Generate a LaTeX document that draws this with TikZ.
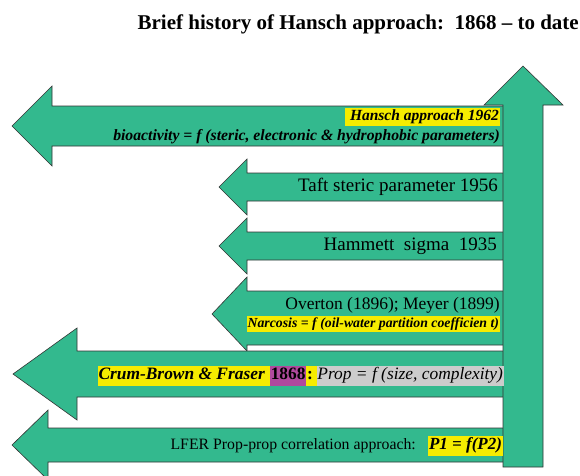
\documentclass[tikz,border=0pt]{standalone}
\usepackage{fontspec}
\setmainfont{Liberation Serif}
\usetikzlibrary{positioning}

\definecolor{arrowgreen}{RGB}{51,185,142}
\definecolor{hlyellow}{RGB}{246,236,0}
\definecolor{hlmagenta}{RGB}{176,74,158}
\definecolor{hlgrey}{RGB}{204,204,204}

% highlighted piece of text
\newcommand{\hlbox}[2]{{\setlength{\fboxsep}{0.8pt}\colorbox{#1}{\strut#2}}}

\begin{document}
\begin{tikzpicture}[x=1pt, y=-1pt,
bigarrow/.style={fill=arrowgreen, draw=black!80, line width=0.6pt, line join=miter},
caption/.style={anchor=east, inner sep=0pt, align=right},
title/.style={anchor=east, inner sep=0pt, font=\bfseries\fontsize{21}{23}\selectfont}
]
\useasboundingbox (0,0) rectangle (580,475);

\node[title] (title) at (579,24) {Brief history of Hansch approach:\ \ 1868 -- to date};

% horizontal arrows, top to bottom
\draw[bigarrow] (512,106) -- (52,106) -- (52,86) -- (12,126) -- (52,166) -- (52,146) -- (512,146) -- cycle;
\draw[bigarrow] (512,173) -- (247,173) -- (247,159) -- (219,187) -- (247,215) -- (247,201) -- (512,201) -- cycle;
\draw[bigarrow] (512,232) -- (247,232) -- (247,218) -- (219,246) -- (247,274) -- (247,260) -- (512,260) -- cycle;
\draw[bigarrow] (512,291) -- (247,291) -- (247,277) -- (212,314) -- (247,351) -- (247,345) -- (512,345) -- cycle;
\draw[bigarrow] (512,351) -- (77,351) -- (77,328) -- (13,374) -- (77,420) -- (77,397) -- (512,397) -- cycle;
\draw[bigarrow] (512,428) -- (48,428) -- (48,410) -- (12,445) -- (48,480) -- (48,462) -- (512,462) -- cycle;

% vertical arrow
\draw[bigarrow] (503,467) -- (503,105) -- (484,105) -- (523,66) -- (563,105) -- (543,105) -- (543,467) -- cycle;

% texts
\node[caption, font=\bfseries\itshape\fontsize{15.5}{17}\selectfont] (hansch) at (500,117)
  {\hlbox{hlyellow}{~Hansch approach 1962}};
\node[caption, font=\bfseries\itshape\fontsize{15.7}{17}\selectfont] (bioact) at (500,137)
  {bioactivity = \textit{f} (steric, electronic \& hydrophobic parameters)};
\node[caption, font=\fontsize{19}{21}\selectfont] (taft) at (498,187) {Taft steric parameter 1956};
\node[caption, font=\fontsize{19}{21}\selectfont] (hammett) at (497,246) {Hammett\ \ sigma\ \ 1935};
\node[caption, font=\fontsize{17.5}{19}\selectfont] (overton) at (500,305) {Overton (1896); Meyer (1899)};
\node[caption, font=\bfseries\itshape\fontsize{13.8}{15}\selectfont] (narcosis) at (500,324)
  {\hlbox{hlyellow}{Narcosis = \textit{f} (oil-water partition coefficien t)}};
\node[caption, font=\fontsize{17.4}{19}\selectfont] (crum) at (504,376)
  {\hlbox{hlyellow}{\bfseries\itshape Crum-Brown \& Fraser }\hlbox{hlmagenta}{\bfseries 1868}\hlbox{hlyellow}{\bfseries:\,}\hlbox{hlgrey}{\itshape Prop = f (size, complexity)}};
\node[caption, font=\bfseries\itshape\fontsize{17}{19}\selectfont] (pone) at (503,446)
  {\hlbox{hlyellow}{P1 = f(P2)}};
\node[caption, font=\fontsize{15.8}{17}\selectfont, left=12pt of pone] (lfer) {LFER Prop-prop correlation approach:};
\end{tikzpicture}
\end{document}
